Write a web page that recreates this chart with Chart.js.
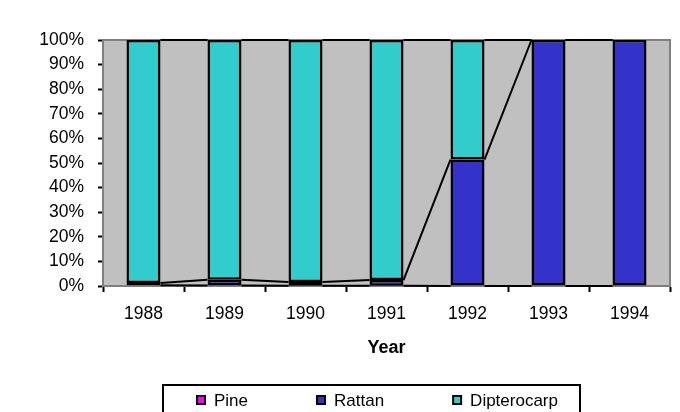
<!DOCTYPE html>
<html>
<head>
<meta charset="utf-8">
<script src="https://cdn.jsdelivr.net/npm/chart.js@4/dist/chart.umd.min.js"></script>
<style>
  html, body { margin: 0; padding: 0; background: #fff; }
  #wrap { width: 680px; height: 412px; position: relative; }
</style>
</head>
<body>
<div id="wrap"><canvas id="c" width="680" height="412"></canvas></div>
<script>
const years = ['1988', '1989', '1990', '1991', '1992', '1993', '1994'];
const pine = [0.3, 0.2, 0.1, 0.1, 0, 0, 0];
const rattan = [0.9, 2.3, 1.5, 2.3, 51.4, 100, 100];
const dipterocarp = [98.8, 97.5, 98.4, 97.6, 48.6, 0, 0];
const seriesNames = ['Pine', 'Rattan', 'Dipterocarp'];
const seriesColors = ['#FF00FF', '#3333CC', '#33CCCC'];
const yTicks = [0, 10, 20, 30, 40, 50, 60, 70, 80, 90, 100];

const FONT = '"Liberation Sans", Arial, sans-serif';

const plotBg = {
  id: 'plotBg',
  beforeDatasetsDraw(chart) {
    const {ctx, chartArea: a} = chart;
    ctx.save();
    ctx.fillStyle = '#C0C0C0';
    ctx.fillRect(a.left, a.top, a.right - a.left, a.bottom - a.top);
    ctx.strokeStyle = '#808080';
    ctx.lineWidth = 2;
    ctx.strokeRect(a.left, a.top, a.right - a.left, a.bottom - a.top);
    ctx.restore();
  }
};

const seriesLines = {
  id: 'seriesLines',
  afterDatasetsDraw(chart) {
    const {ctx} = chart;
    ctx.save();
    ctx.strokeStyle = '#000';
    ctx.lineWidth = 2;
    chart.data.datasets.forEach((ds, i) => {
      const els = chart.getDatasetMeta(i).data;
      for (let j = 0; j < els.length - 1; j++) {
        const a = els[j], b = els[j + 1];
        ctx.beginPath();
        ctx.moveTo(a.x + a.width / 2, a.y);
        ctx.lineTo(b.x - b.width / 2, b.y);
        ctx.stroke();
      }
    });
    ctx.restore();
  }
};

const boxLegend = {
  id: 'boxLegend',
  afterDraw(chart) {
    const {ctx} = chart;
    ctx.save();
    ctx.font = '17px ' + FONT;
    const boxL = 163, boxR = 580, boxT = 385;
    ctx.strokeStyle = '#000';
    ctx.lineWidth = 2;
    ctx.strokeRect(boxL, boxT, boxR - boxL, 40);
    let x = boxL + 34;
    const cy = 400;
    chart.data.datasets.forEach((ds) => {
      ctx.fillStyle = ds.backgroundColor;
      ctx.fillRect(x, cy - 4, 8, 8);
      ctx.lineWidth = 2;
      ctx.strokeStyle = '#000';
      ctx.strokeRect(x, cy - 4, 8, 8);
      ctx.fillStyle = '#000';
      ctx.textBaseline = 'middle';
      ctx.textAlign = 'left';
      ctx.fillText(ds.label, x + 17, cy + 1);
      x += 17 + ctx.measureText(ds.label).width + 69;
    });
    ctx.restore();
  }
};

const seriesValues = [pine, rattan, dipterocarp];

new Chart(document.getElementById('c'), {
  type: 'bar',
  data: {
    labels: years,
    datasets: seriesNames.map((n, i) => ({
      label: n,
      data: seriesValues[i],
      backgroundColor: seriesColors[i],
      borderColor: '#000',
      borderWidth: 2.5,
      borderSkipped: false,
      categoryPercentage: 1,
      barPercentage: 0.42
    }))
  },
  options: {
    responsive: false,
    animation: false,
    devicePixelRatio: 1,
    layout: { padding: { top: 40, right: 10, bottom: 0, left: 0 } },
    plugins: { legend: { display: false }, tooltip: { enabled: false } },
    scales: {
      x: {
        stacked: true,
        afterFit(s) { s.height = 126; },
        grid: { display: true, drawOnChartArea: false, offset: true, tickLength: 6, tickColor: '#000', tickWidth: 2 },
        border: { display: true, color: '#000', width: 2 },
        ticks: { color: '#000', font: { family: FONT, size: 17.5 }, padding: 12, maxRotation: 0 },
        title: { display: true, text: 'Year', color: '#000', font: { family: FONT, size: 18, weight: 'bold' }, padding: { top: 0, bottom: 53 } }
      },
      y: {
        stacked: true,
        min: 0, max: 100,
        afterFit(s) { s.width = 103; },
        afterBuildTicks(s) { s.ticks = yTicks.map(v => ({ value: v })); },
        grid: { display: true, drawOnChartArea: false, tickLength: 5, tickColor: '#000', tickWidth: 2 },
        border: { display: true, color: '#000', width: 2 },
        ticks: { color: '#000', font: { family: FONT, size: 17.5 }, padding: 14, callback: v => v + '%' }
      }
    }
  },
  plugins: [plotBg, seriesLines, boxLegend]
});
</script>
</body>
</html>
